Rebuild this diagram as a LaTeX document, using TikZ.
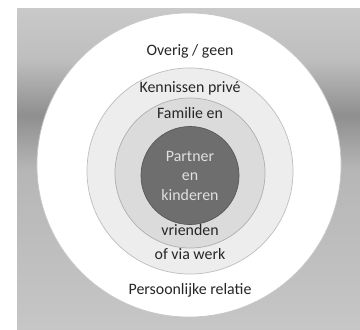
\documentclass[tikz,border=0pt]{standalone}
\usepackage{fontspec}
\setmainfont{Carlito}
\usetikzlibrary{positioning}
\definecolor{bgtop}{HTML}{C9C9C9}
\definecolor{bgup}{HTML}{BEBEBE}
\definecolor{bgdark}{HTML}{8F8F8F}
\definecolor{bgmid}{HTML}{B6B6B6}
\definecolor{bgbot}{HTML}{C6C6C6}
\definecolor{ringB}{HTML}{EDEDED}
\definecolor{ringC}{HTML}{DBDBDB}
\definecolor{kern}{HTML}{6E6E6E}
\definecolor{tekst}{HTML}{262626}
\pgfdeclareverticalshading{achtergrond}{100bp}{color(0bp)=(bgbot); color(25bp)=(bgbot);
  color(49.8bp)=(bgmid); color(58.3bp)=(bgdark); color(66.9bp)=(bgup);
  color(75bp)=(bgtop); color(100bp)=(bgtop)}
\tikzset{
  ring/.style={circle, draw=#1!80!black, fill=#1, line width=0.5pt, inner sep=0pt},
  lbl/.style={font=\fontsize{11.3}{13.9}\selectfont, text=tekst, align=center,
              inner sep=0pt, anchor=base},
}

\begin{document}
\begin{tikzpicture}[x=0.025cm, y=-0.025cm]
  \useasboundingbox (0,0) rectangle (360,329);
  \shade[shading=achtergrond] (17,8) rectangle (360,329);
  \node[ring=white, draw=gray!45, minimum size=7.6cm] (overig) at (189,165) {};
  \node[ring=ringB, minimum size=5.15cm] (kennissen) at (190,171) {};
  \node[ring=ringC, minimum size=3.75cm] (familie) at (190,173) {};
  \node[ring=kern, minimum size=2.45cm, text=white!88!black, align=center,
        font=\fontsize{11.3}{13.9}\selectfont] (partner) at (190,175.5) {Partner\\en\\kinderen};
  \node[lbl] (overigtxt) at (190,55) {Overig / geen};
  \node[lbl] (kennistxt) at (190,92.5) {Kennissen privé};
  \node[lbl] (familietxt) at (190,118) {Familie en};
  \node[lbl] (vriendtxt) at (190,235.5) {vrienden};
  \node[lbl] (werktxt) at (190,259.5) {of via werk};
  \node[lbl] (relatietxt) at (190,294.5) {Persoonlijke relatie};
\end{tikzpicture}
\end{document}
